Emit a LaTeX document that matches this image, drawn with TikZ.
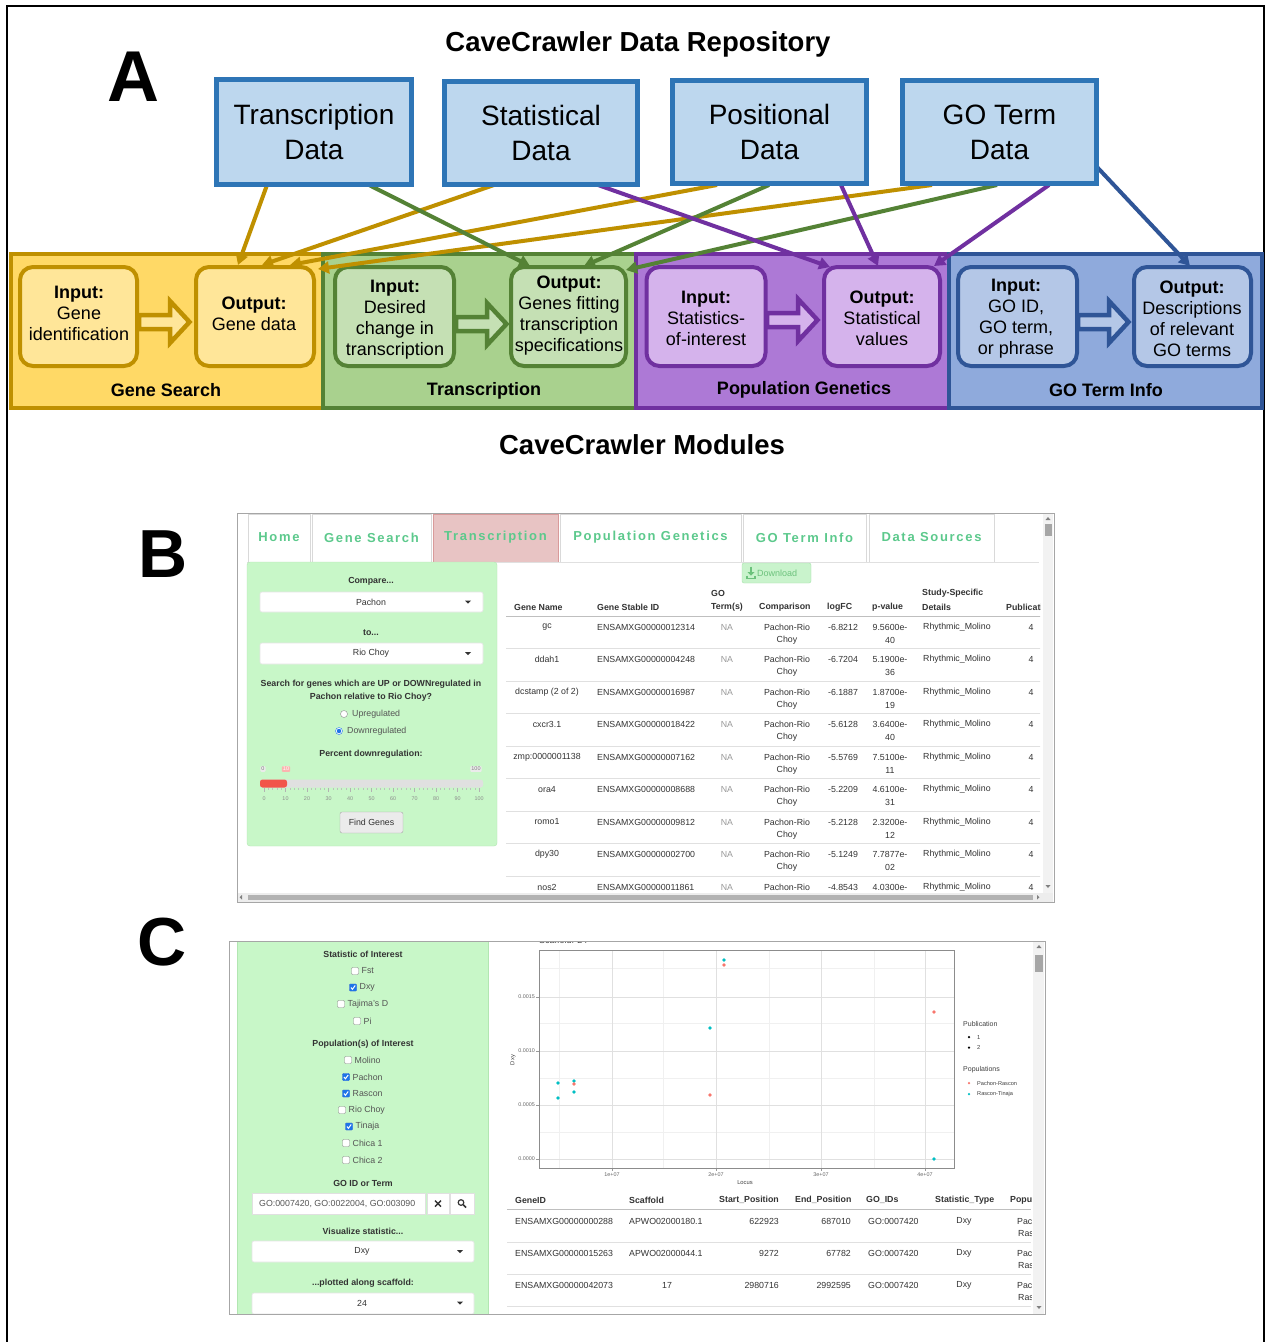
\documentclass[tikz,border=0pt]{standalone}
\usepackage{fontspec}
\setmainfont{Liberation Sans}
\newfontfamily\tabfont[LetterSpace=13]{Liberation Sans}
\usetikzlibrary{arrows.meta,calc}
\newcommand\fsz[2]{\fontsize{#1}{#2}\selectfont}
\definecolor{dfill}{HTML}{BDD7EE}
\definecolor{dbord}{HTML}{2E75B6}
\definecolor{gsfill}{HTML}{FFD966}
\definecolor{gsin}{HTML}{FFE699}
\definecolor{gsbord}{HTML}{BF9000}
\definecolor{trfill}{HTML}{A9D18E}
\definecolor{trin}{HTML}{C5E0B4}
\definecolor{trbord}{HTML}{548235}
\definecolor{pgfill}{HTML}{AD79D6}
\definecolor{pgin}{HTML}{D5B3EC}
\definecolor{pgbord}{HTML}{7030A0}
\definecolor{gofill}{HTML}{8FAADC}
\definecolor{goin}{HTML}{B4C7E7}
\definecolor{gobord}{HTML}{2F5597}
\definecolor{sbgreen}{HTML}{C8F7C8}
\definecolor{sbline}{HTML}{B2E6B2}
\definecolor{tabgreen}{HTML}{5CC98C}
\definecolor{tabpink}{HTML}{E8C4C4}
\definecolor{tabpinkb}{HTML}{D99A9A}
\definecolor{txt}{HTML}{333333}
\definecolor{gtxt}{HTML}{555555}
\definecolor{chkblue}{HTML}{1E73E8}
\definecolor{ggred}{HTML}{F8766D}
\definecolor{ggcyan}{HTML}{00BFC4}
\definecolor{sliderred}{HTML}{F2554A}
\definecolor{dlfill}{HTML}{C9F3CC}
\definecolor{dlbord}{HTML}{A6E2AC}
\definecolor{dlgreen}{HTML}{6CC27C}
\newcommand\blockarr[4]{\draw[line width=4.5pt, draw=#3, fill=#4, miter limit=10] (#1,#2-7) -- ++(31,0) -- ++(0,-14) -- ++(19.5,21) -- ++(-19.5,21) -- ++(0,-14) -- ++(-31,0) -- cycle;}
\tikzset{
 databox/.style={draw=dbord, fill=dfill, line width=5pt, inner sep=0pt, align=center, font=\fsz{28}{35}},
 panel/.style={line width=4pt, inner sep=0pt, minimum height=154pt},
 inbox/.style={line width=4pt, rounded corners=13pt, inner sep=0pt, minimum height=99pt},
 intxt/.style={align=center, font=\fsz{18}{21}, inner sep=0pt},
 plabel/.style={font=\bfseries\fsz{18}{20}},
 conn/.style={line width=4pt, -{Triangle[length=11pt,width=12pt]}},
 sstxt/.style={font=\fsz{8.8}{10}, text=txt, inner sep=0pt},
 ssgray/.style={font=\fsz{8.8}{10}, text=gtxt, inner sep=0pt},
 ssbold/.style={font=\bfseries\fsz{8.8}{10}, text=txt, inner sep=0pt},
 tabbox/.style={draw=black!15, fill=white, line width=0.8pt},
 tabtxt/.style={font=\tabfont\bfseries\fsz{13}{15}, text=tabgreen, inner sep=0pt},
 ddbox/.style={draw=black!10, fill=white, rounded corners=2pt, line width=0.6pt},
 tiny/.style={font=\fsz{5.4}{6}, text=black!60, inner sep=0pt},
 legtxt/.style={font=\fsz{5.8}{7}, text=black!75, inner sep=0pt},
 rowline/.style={draw=black!12, line width=0.7pt},
 gpt/.style={circle, inner sep=0pt, minimum size=3.6pt}
}
\begin{document}
\begin{tikzpicture}[x=1pt,y=-1pt]
\useasboundingbox (0,0) rectangle (1265,1342);
\fill[white] (0,0) rectangle (1265,1342);
\draw[line width=1.6pt] (7,1342) -- (7,6) -- (1264,6) -- (1264,1342);

%================ A =================
\node[font=\bfseries\fsz{72}{72}] (labA) at (133,77) {A};
\node[font=\bfseries\fsz{27.5}{30}] (title) at (638,44) {CaveCrawler Data Repository};

% module panels
\node[panel, draw=gsbord, fill=gsfill, minimum width=312pt] (gsp) at (167,331) {};
\node[panel, draw=trbord, fill=trfill, minimum width=313pt] (trp) at (479.5,331) {};
\node[panel, draw=pgbord, fill=pgfill, minimum width=313pt] (pgp) at (792.5,331) {};
\node[panel, draw=gobord, fill=gofill, minimum width=313pt] (gop) at (1105.5,331) {};

% inner boxes
\node[inbox, draw=gsbord, fill=gsin, minimum width=117pt] (gsi) at (78.5,316.5) {};
\node[inbox, draw=gsbord, fill=gsin, minimum width=118pt] (gso) at (255,316.5) {};
\node[inbox, draw=trbord, fill=trin, minimum width=119pt] (tri) at (394.5,316.5) {};
\node[inbox, draw=trbord, fill=trin, minimum width=115pt] (tro) at (568.5,316.5) {};
\node[inbox, draw=pgbord, fill=pgin, minimum width=119pt] (pgi) at (706,316.5) {};
\node[inbox, draw=pgbord, fill=pgin, minimum width=116pt] (pgo) at (882,316.5) {};
\node[inbox, draw=gobord, fill=goin, minimum width=119pt] (goi) at (1017.5,316.5) {};
\node[inbox, draw=gobord, fill=goin, minimum width=117pt] (goo) at (1192.5,316.5) {};

\node[intxt] (gsit) at (79,313) {\textbf{Input:}\\Gene\\identification};
\node[intxt] (gsot) at (254,314) {\textbf{Output:}\\Gene data};
\node[intxt] (trit) at (395,320) {\textbf{Input:}\\Desired\\change in\\transcription};
\node[intxt] (trot) at (569,316) {\textbf{Output:}\\Genes fitting\\transcription\\specifications};
\node[intxt] (pgit) at (706,318) {\textbf{Input:}\\Statistics-\\of-interest};
\node[intxt] (pgot) at (882,318) {\textbf{Output:}\\Statistical\\values};
\node[intxt] (goit) at (1016,319) {\textbf{Input:}\\GO ID,\\GO term,\\or phrase};
\node[intxt] (goot) at (1192,319) {\textbf{Output:}\\Descriptions\\of relevant\\GO terms};

% block arrows
\blockarr{139}{322}{gsbord}{gsin}
\blockarr{456}{324}{trbord}{trin}
\blockarr{767}{320}{pgbord}{pgin}
\blockarr{1078}{322}{gobord}{goin}

\node[plabel] (gsl) at (166,390) {Gene Search};
\node[plabel] (trl) at (484,391) {Transcription};
\node[plabel] (pgl) at (804,390) {Population Genetics};
\node[plabel] (gol) at (1106,390) {GO Term Info};

\node[font=\bfseries\fsz{27.5}{30}] (modt) at (642,445) {CaveCrawler Modules};

% connector end points
\coordinate (tdA) at (267,185); \coordinate (tdB) at (369,185);
\coordinate (sdA) at (494,185); \coordinate (sdB) at (598,185);
\coordinate (pdA) at (717,185); \coordinate (pdB) at (769,185); \coordinate (pdC) at (841,185);
\coordinate (gdA) at (932,185); \coordinate (gdB) at (997,185); \coordinate (gdC) at (1049,185); \coordinate (gdD) at (1097,167);
\coordinate (gso1) at (238,265); \coordinate (gso2) at (262,265); \coordinate (gso3) at (290,265); \coordinate (gso4) at (318,269);
\coordinate (tro1) at (530,266); \coordinate (tro2) at (584,266); \coordinate (tro3) at (626,270);
\coordinate (pgo1) at (830,267); \coordinate (pgo2) at (878,266); \coordinate (pgo3) at (934,266);
\coordinate (goo1) at (1190,266);

\draw[conn, gsbord] (tdA) -- (gso1);
\draw[conn, gsbord] (sdA) -- (gso2);
\draw[conn, gsbord] (pdA) -- (gso3);
\draw[conn, gsbord] (gdA) -- (gso4);
\draw[conn, trbord] (tdB) -- (tro1);
\draw[conn, trbord] (pdB) -- (tro2);
\draw[conn, trbord] (gdB) -- (tro3);
\draw[conn, pgbord] (sdB) -- (pgo1);
\draw[conn, pgbord] (pdC) -- (pgo2);
\draw[conn, pgbord] (gdC) -- (pgo3);
\draw[conn, gobord] (gdD) -- (goo1);

% data boxes
\node[databox, minimum width=195pt, minimum height=105pt] (td) at (314,132) {Transcription\\Data};
\node[databox, minimum width=193pt, minimum height=103pt] (sd) at (541,132.5) {Statistical\\Data};
\node[databox, minimum width=194pt, minimum height=103pt] (pd) at (769.5,132) {Positional\\Data};
\node[databox, minimum width=194pt, minimum height=103pt] (gd) at (999.5,132) {GO Term\\Data};

%================ B =================
\node[font=\bfseries\fsz{68}{68}] (labB) at (163,554) {B};
\draw[black!35, line width=0.8pt, fill=white] (237,513) rectangle (1054,902);
\foreach \t/\xa/\xb/\nm in {Home/248/310/tab1, Gene Search/312/431/tab2, Population Genetics/560/741/tab4, GO Term Info/743/866/tab5, Data Sources/869/994/tab6}{
  \draw[tabbox] (\xa,514) rectangle (\xb,562);
  \node[tabtxt] (\nm) at ({(\xa+\xb)/2},537.5) {\t};
}
\draw[fill=tabpink, draw=tabpinkb, line width=0.8pt] (433,514) rectangle (558,562);
\node[tabtxt] (tab3) at (495.5,537.5) {Transcription};
\draw[black!12, line width=0.8pt] (247,562) -- (1039,562);

% sidebar
\draw[fill=sbgreen, draw=sbline, rounded corners=3pt] (247,562) rectangle (497,846);
\node[ssbold] (bcmp) at (371,581) {Compare...};
\draw[ddbox] (260,592) rectangle (483,612);
\node[sstxt] (bdd1) at (371,602) {Pachon};
\fill[txt] (465,600.5) -- (471,600.5) -- (468,603.5) -- cycle;
\node[ssbold] (bto) at (371,633) {to...};
\draw[ddbox] (260,643) rectangle (483,664);
\node[sstxt] (bdd2) at (371,653.5) {Rio Choy};
\fill[txt] (465,652) -- (471,652) -- (468,655) -- cycle;
\node[ssbold] (bq1) at (371,684.5) {Search for genes which are UP or DOWNregulated in};
\node[ssbold] (bq2) at (371,697.5) {Pachon relative to Rio Choy?};
\node[draw=black!45, fill=white, circle, inner sep=0pt, minimum size=7pt] (rad1) at (344,714) {};
\node[ssgray, anchor=west] (rad1t) at (352,714) {Upregulated};
\node[draw=chkblue, fill=white, circle, inner sep=0pt, minimum size=7pt] (rad2) at (339,731) {};
\fill[chkblue] (rad2) circle (2.2pt);
\node[ssgray, anchor=west] (rad2t) at (347,731) {Downregulated};
\node[ssbold] (bpct) at (371,754) {Percent downregulation:};
\node[fill=black!8, rounded corners=1pt, inner sep=1pt, font=\fsz{5.5}{6}, text=black!50] (sl0) at (263,769) {0};
\node[fill=ggred!55, rounded corners=1pt, inner sep=1pt, font=\fsz{5.5}{6}, text=white] (sl10) at (286,769) {10};
\node[fill=black!8, rounded corners=1pt, inner sep=1pt, font=\fsz{5.5}{6}, text=black!50] (sl100) at (476,769) {100};
\draw[fill=black!12, draw=none, rounded corners=2.5pt] (260,779.5) rectangle (483,787.5);
\draw[fill=sliderred, draw=none, rounded corners=2.5pt] (260,779.5) rectangle (287,787.5);
\foreach \k in {0,...,50}{ \draw[black!25, line width=0.4pt] ({264+4.3*\k},788) -- ({264+4.3*\k},790); }
\foreach \v [count=\k from 0] in {0,10,...,100}{
  \draw[black!30, line width=0.5pt] ({264+21.5*\k},788) -- ({264+21.5*\k},791.5);
  \node[tiny, text=black!45] (tk\k) at ({264+21.5*\k},799) {\v};
}
\draw[fill=black!8, draw=black!35, rounded corners=2pt] (340,812) rectangle (403,833);
\node[sstxt] (bfind) at (371.5,822.5) {Find Genes};

% download button
\draw[fill=dlfill, draw=dlbord, rounded corners=2pt] (742,563) rectangle (811,583);
\draw[dlgreen, line width=1.3pt] (751,566.5) -- (751,573);
\fill[dlgreen] (747.5,572) -- (754.5,572) -- (751,575.5) -- cycle;
\draw[dlgreen, line width=1.1pt] (747,575.5) -- (747,578.5) -- (755,578.5) -- (755,575.5);
\node[font=\fsz{9}{10}, text=dlgreen, anchor=west, inner sep=0pt] (bdl) at (757,573) {Download};

% table B
\begin{scope}
\clip (500,584) rectangle (1040,892.5);
\node[ssbold, anchor=west] (bh1) at (514,607) {Gene Name};
\node[ssbold, anchor=west] (bh2) at (597,607) {Gene Stable ID};
\node[ssbold, anchor=west] (bh3a) at (711,593) {GO};
\node[ssbold, anchor=west] (bh3b) at (711,607) {Term(s)};
\node[ssbold, anchor=west] (bh4) at (759,607) {Comparison};
\node[ssbold, anchor=west] (bh5) at (827,607) {logFC};
\node[ssbold, anchor=west] (bh6) at (872,607) {p-value};
\node[ssbold, anchor=west] (bh7a) at (922,593) {Study-Specific};
\node[ssbold, anchor=west] (bh7b) at (922,607) {Details};
\node[ssbold, anchor=west] (bh8) at (1006,607) {Publication};
\draw[black!25, line width=1pt] (506,616) -- (1041,616);
\foreach \g/\id/\fc/\pv/\pe [count=\i] in {gc/ENSAMXG00000012314/-6.8212/9.5600e-/40, ddah1/ENSAMXG00000004248/-6.7204/5.1900e-/36, dcstamp (2 of 2)/ENSAMXG00000016987/-6.1887/1.8700e-/19, cxcr3.1/ENSAMXG00000018422/-5.6128/3.6400e-/40, zmp:0000001138/ENSAMXG00000007162/-5.5769/7.5100e-/11, ora4/ENSAMXG00000008688/-5.2209/4.6100e-/31, romo1/ENSAMXG00000009812/-5.2128/2.3200e-/12, dpy30/ENSAMXG00000002700/-5.1249/7.7877e-/02, nos2/ENSAMXG00000011861/-4.8543/4.0300e-/11}{
  \pgfmathsetmacro\yy{627+32.5*(\i-1)}
  \node[sstxt] (bg\i) at (547,\yy) {\g};
  \node[sstxt, anchor=west] (bid\i) at (597,\yy) {\id};
  \node[sstxt, text=black!40] (bna\i) at (727,\yy) {NA};
  \node[sstxt] (bcp\i) at (787,\yy) {Pachon-Rio};
  \node[sstxt] (bcq\i) at (787,\yy+13) {Choy};
  \node[sstxt] (bfc\i) at (843,\yy) {\fc};
  \node[sstxt] (bpv\i) at (890,\yy) {\pv};
  \node[sstxt] (bpe\i) at (890,\yy+13) {\pe};
  \node[sstxt, anchor=west] (bst\i) at (923,\yy) {Rhythmic\_Molino};
  \node[sstxt] (bpu\i) at (1031,\yy) {4};
  \ifnum\i<9 \draw[rowline] (506,\yy+21.5) -- (1041,\yy+21.5); \fi
}
\end{scope}
% scrollbars B
\fill[black!5] (1043,514) rectangle (1053,893);
\fill[black!35] (1044.5,524) rectangle (1051.5,536);
\fill[black!50] (1045.5,520) -- (1050.5,520) -- (1048,517) -- cycle;
\fill[black!50] (1045.5,885) -- (1050.5,885) -- (1048,888) -- cycle;
\fill[black!7] (238,893) rectangle (1053,901.5);
\fill[black!30] (248,894.5) rectangle (1033,900);
\fill[black!50] (242,895) -- (242,899.5) -- (239.5,897.25) -- cycle;
\fill[black!50] (1037,895) -- (1037,899.5) -- (1039.5,897.25) -- cycle;

%================ C =================
\node[font=\bfseries\fsz{68}{68}] (labC) at (162,942) {C};
\draw[black!35, line width=0.8pt, fill=white] (229,941) rectangle (1045,1314);
\begin{scope}
\clip (229,941) rectangle (1045,1314);
\fill[sbgreen] (237,941) rectangle (488,1314);
\draw[sbline, line width=0.6pt] (237,941) -- (237,1314);
\draw[sbline, line width=0.6pt] (488,941) -- (488,1314);
\node[ssbold] (cst) at (363,954.5) {Statistic of Interest};
\node[ssbold] (cpop) at (363,1044) {Population(s) of Interest};
\foreach \lab/\bx/\yy/\ck [count=\k] in {Fst/355/971/0, Dxy/353/987.5/1, Tajima's D/341/1004/0, Pi/357/1021/0, Molino/348/1060/0, Pachon/346/1077/1, Rascon/346/1093.5/1, Rio Choy/342/1110/0, Tinaja/349/1126.5/1, Chica 1/346/1143/0, Chica 2/346/1160/0}{
  \node[draw=black!45, fill=white, rounded corners=1pt, minimum size=7pt, inner sep=0pt] (cb\k) at (\bx,\yy) {};
  \ifnum\ck=1
    \node[draw=chkblue, fill=chkblue, rounded corners=1pt, minimum size=7pt, inner sep=0pt] at (\bx,\yy) {};
    \draw[white, line width=1pt] (\bx-2,\yy) -- (\bx-0.6,\yy+1.8) -- (\bx+2.2,\yy-2);
  \fi
  \node[ssgray, anchor=west] (cbt\k) at (\bx+6.5,\yy) {\lab};
}
\node[ssbold] (cgo) at (363,1183) {GO ID or Term};
\draw[fill=white, draw=black!12] (252,1193) rectangle (425,1214);
\node[ssgray, anchor=west] (cgoin) at (259,1203.5) {GO:0007420, GO:0022004, GO:003090};
\draw[fill=white, draw=black!12] (427,1193) rectangle (449,1214);
\draw[fill=white, draw=black!12] (450,1193) rectangle (474,1214);
\draw[txt, line width=1.4pt] (435,1200.5) -- (441,1206.5) (441,1200.5) -- (435,1206.5);
\draw[txt, line width=1.2pt] (461,1202.5) circle (2.8pt);
\draw[txt, line width=1.6pt] (463.2,1204.7) -- (466,1207.5);
\node[ssbold] (cvis) at (363,1231) {Visualize statistic...};
\draw[ddbox] (252,1241) rectangle (474,1262);
\node[sstxt] (cdd1) at (362,1251.5) {Dxy};
\fill[txt] (457,1250) -- (463,1250) -- (460,1253) -- cycle;
\node[ssbold] (cplt) at (363,1283) {...plotted along scaffold:};
\draw[ddbox] (252,1293) rectangle (474,1314);
\node[sstxt] (cdd2) at (362,1303) {24};
\fill[txt] (457,1301.5) -- (463,1301.5) -- (460,1304.5) -- cycle;

% plot
\node[font=\fsz{9}{10}, text=black!75, anchor=west, inner sep=0pt] (cscaf) at (539,940) {Scaffold: 24};
\foreach \yy in {968,1023,1078,1132}{ \draw[black!6, line width=0.5pt] (539,\yy) -- (954,\yy); }
\foreach \xx in {559,663,769,874}{ \draw[black!6, line width=0.5pt] (\xx,950) -- (\xx,1168); }
\foreach \yy/\lab [count=\k] in {997/0.0015,1051/0.0010,1105/0.0005,1159/0.0000}{
  \draw[black!12, line width=0.7pt] (539,\yy) -- (954,\yy);
  \draw[black!40, line width=0.5pt] (536,\yy) -- (539,\yy);
  \node[tiny, anchor=east] (cy\k) at (535,\yy) {\lab};
}
\foreach \xx/\lab [count=\k] in {612/1e+07,716/2e+07,821/3e+07,925/4e+07}{
  \draw[black!12, line width=0.7pt] (\xx,950) -- (\xx,1168);
  \draw[black!40, line width=0.5pt] (\xx,1168) -- (\xx,1171);
  \node[tiny] (cx\k) at (\xx,1175) {\lab};
}
\draw[black!45, line width=0.7pt] (539,950) rectangle (954,1168);
\node[legtxt] (clocus) at (745,1183) {Locus};
\node[legtxt, rotate=90] (cdxy) at (513,1060) {Dxy};
\foreach \px/\py [count=\k] in {558/1083,558/1098,574/1081,574/1092,710/1028,724/960,934/1159}{
  \node[gpt, fill=ggcyan] (pc\k) at (\px,\py) {};
}
\foreach \px/\py [count=\k] in {574/1084,710/1095,724/965,934/1012}{
  \node[gpt, fill=ggred] (pr\k) at (\px,\py) {};
}
\node[legtxt, anchor=west, font=\fsz{7}{8}] (lpub) at (963,1024) {Publication};
\node[gpt, fill=black, minimum size=2.5pt] (lp1) at (969,1037) {};
\node[legtxt, anchor=west] (lp1t) at (977,1037) {1};
\node[gpt, fill=black, minimum size=2.5pt] (lp2) at (969,1047.5) {};
\node[legtxt, anchor=west] (lp2t) at (977,1047.5) {2};
\node[legtxt, anchor=west, font=\fsz{7}{8}] (lpop) at (963,1070) {Populations};
\node[gpt, fill=ggred, minimum size=2.5pt] (lr) at (969,1083) {};
\node[legtxt, anchor=west, font=\fsz{5.6}{7}] (lrt) at (977,1083) {Pachon-Rascon};
\node[gpt, fill=ggcyan, minimum size=2.5pt] (lc) at (969,1094) {};
\node[legtxt, anchor=west, font=\fsz{5.6}{7}] (lct) at (977,1094) {Rascon-Tinaja};

% table C
\begin{scope}
\clip (500,1190) rectangle (1031,1314);
\node[ssbold, anchor=west] (ch1) at (515,1200) {GeneID};
\node[ssbold, anchor=west] (ch2) at (629,1200) {Scaffold};
\node[ssbold, anchor=west] (ch3) at (719,1200) {Start\_Position};
\node[ssbold, anchor=west] (ch4) at (795,1200) {End\_Position};
\node[ssbold, anchor=west] (ch5) at (866,1200) {GO\_IDs};
\node[ssbold, anchor=west] (ch6) at (935,1200) {Statistic\_Type};
\node[ssbold, anchor=west] (ch7) at (1010,1200) {Populations};
\draw[black!25, line width=1pt] (507,1209) -- (1031,1209);
\foreach \gid/\sc/\st/\en [count=\i] in {ENSAMXG00000000288/APWO02000180.1/622923/687010, ENSAMXG00000015263/APWO02000044.1/9272/67782, ENSAMXG00000042073/17/2980716/2992595}{
  \pgfmathsetmacro\yy{1221+32*(\i-1)}
  \node[sstxt, anchor=west] (cg\i) at (515,\yy) {\gid};
  \ifnum\i=3 \node[sstxt] (cs\i) at (667,\yy) {\sc}; \else \node[sstxt, anchor=west] (cs\i) at (629,\yy) {\sc}; \fi
  \node[sstxt, anchor=east] (cst\i) at (779,\yy) {\st};
  \node[sstxt, anchor=east] (cen\i) at (851,\yy) {\en};
  \node[sstxt, anchor=west] (cgo\i) at (868,\yy) {GO:0007420};
  \node[sstxt] (cty\i) at (964,\yy) {Dxy};
  \node[sstxt, anchor=west] (cpa\i) at (1017,\yy) {Pachon-};
  \node[sstxt, anchor=west] (cra\i) at (1018,\yy+12) {Rascon};
  \draw[rowline] (507,\yy+21) -- (1031,\yy+21);
}
\end{scope}
% scrollbar C
\fill[black!5] (1033,941) rectangle (1044,1314);
\fill[black!35] (1034.5,955) rectangle (1042.5,972);
\fill[black!50] (1036.5,948) -- (1041.5,948) -- (1039,945) -- cycle;
\fill[black!50] (1036.5,1306) -- (1041.5,1306) -- (1039,1309) -- cycle;
\end{scope}
\draw[black!35, line width=0.8pt] (229,941) rectangle (1045,1314);
\end{tikzpicture}
\end{document}
